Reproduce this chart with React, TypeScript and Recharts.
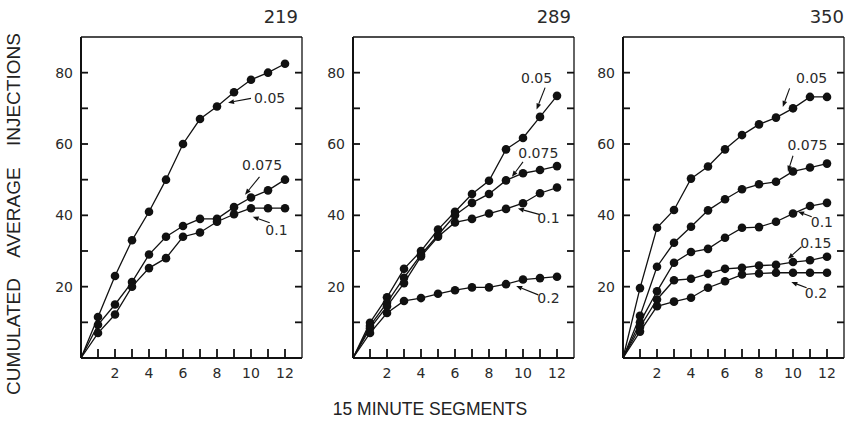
import React from 'react';
import { LineChart, Line, XAxis, YAxis, ReferenceLine, ReferenceDot } from 'recharts';

// 15-minute segments (0 = origin)
const segments = [0, 1, 2, 3, 4, 5, 6, 7, 8, 9, 10, 11, 12];
const xTicks = [1, 2, 3, 4, 5, 6, 7, 8, 9, 10, 11, 12];
const yTicks = [10, 20, 30, 40, 50, 60, 70, 80];

// panel 219
const r219_005 = [0, 11.5, 23, 33, 41, 50, 60, 67, 70.5, 74.5, 78, 80, 82.5];
const r219_0075 = [0, 9.3, 15, 21.3, 29, 34, 37, 39, 39, 42.3, 45, 47, 50];
const r219_01 = [0, 7, 12.2, 20, 25.2, 28, 34, 35.2, 38.2, 40.3, 42, 42, 42];

// panel 289
const r289_005 = [0, 9.9, 17, 25, 30, 36, 41, 46, 49.7, 58.5, 61.7, 67.6, 73.5];
const r289_0075 = [0, 9, 15.5, 22.5, 29, 34.5, 40, 43.5, 46, 49.8, 51.8, 52.7, 53.8];
const r289_01 = [0, 8.3, 14.5, 21, 28.5, 34, 38, 39, 40.5, 41.8, 43.4, 46.2, 47.8];
const r289_02 = [0, 7, 12.6, 16, 16.8, 18, 19, 19.8, 19.8, 20.7, 22, 22.4, 22.8];

// panel 350
const r350_005 = [0, 19.6, 36.5, 41.5, 50.3, 53.7, 58.5, 62.5, 65.5, 67.4, 70, 73.2, 73.2];
const r350_0075 = [0, 11.8, 25.6, 32.3, 36.8, 41.4, 44.5, 47.3, 48.7, 49.4, 52.3, 53.4, 54.5];
const r350_01 = [0, 10, 18.7, 26.7, 29.7, 30.6, 33.7, 36.5, 36.7, 38.2, 40.5, 42.6, 43.5];
const r350_015 = [0, 8.7, 16.4, 21.8, 22.2, 23.6, 25, 25.3, 25.9, 26.1, 26.9, 27.4, 28.4];
const r350_02 = [0, 7.4, 14.5, 15.8, 16.9, 19.7, 21.5, 23.4, 23.7, 23.9, 23.9, 23.9, 23.9];

// dose labels: text position and arrow (data units)
const notes219 = [
    { text: '0.05', tx: 11.1, ty: 72.8, x1: 10.0, y1: 72.8, x2: 8.65, y2: 71.6 },
    { text: '0.075', tx: 10.65, ty: 54.2, x1: 10.5, y1: 50.8, x2: 9.65, y2: 45.8 },
    { text: '0.1', tx: 11.5, ty: 36, x1: 11.1, y1: 37.9, x2: 10.1, y2: 39.6 },
];
const notes289 = [
    { text: '0.05', tx: 10.8, ty: 78.4, x1: 11.3, y1: 75.8, x2: 10.8, y2: 69.7 },
    { text: '0.075', tx: 10.9, ty: 57.6, x1: 10, y1: 55, x2: 9.35, y2: 50.8 },
    { text: '0.1', tx: 11.5, ty: 39.3, x1: 11, y1: 40.2, x2: 9.7, y2: 41.9 },
    { text: '0.2', tx: 11.5, ty: 16.9, x1: 10.9, y1: 17.7, x2: 9.6, y2: 20.2 },
];
const notes350 = [
    { text: '0.05', tx: 11.1, ty: 78.4, x1: 9.8, y1: 75.6, x2: 9.4, y2: 70.4 },
    { text: '0.075', tx: 10.85, ty: 59.6, x1: 10, y1: 56.7, x2: 9.7, y2: 52.2 },
    { text: '0.1', tx: 11.7, ty: 38.2, x1: 11.1, y1: 39.6, x2: 10.3, y2: 41 },
    { text: '0.15', tx: 11.35, ty: 32.3, x1: 10.5, y1: 31.2, x2: 9.7, y2: 27.8 },
    { text: '0.2', tx: 11.35, ty: 18.3, x1: 10.8, y1: 19.7, x2: 9.9, y2: 21.3 },
];

const FONT = '"DejaVu Sans", "Liberation Sans", sans-serif';
const TITLE_FONT = '"Liberation Sans", Arial, sans-serif';
const INK = '#111';
const TXT = '#2a2a2a';
const X_MAX = 13;
const Y_MAX = 90;

function buildRows(series: number[][]) {
    return segments.map((s, i) => {
        const row: any = { seg: s };
        series.forEach((vals, k) => { row['s' + k] = vals[i]; });
        return row;
    });
}

const Arrow = (props: any) => {
    const { x1, y1, x2, y2 } = props;
    if (x1 == null) return null;
    const ang = Math.atan2(y2 - y1, x2 - x1);
    const len = 6, half = 2.4;
    const bx = x2 - len * Math.cos(ang), by = y2 - len * Math.sin(ang);
    const px = -Math.sin(ang) * half, py = Math.cos(ang) * half;
    return (
        <g>
            <line x1={x1} y1={y1} x2={bx} y2={by} stroke={INK} strokeWidth={1.1} />
            <polygon points={`${x2},${y2} ${bx + px},${by + py} ${bx - px},${by - py}`} fill={INK} />
        </g>
    );
};

// inward tick marks, anchored on the axes through the chart scales
const upTick = (p: any) => <rect x={p.cx - 0.9} y={p.cy - 9} width={1.8} height={9} fill={INK} />;
const rightTick = (p: any) => <rect x={p.cx} y={p.cy - 0.9} width={7} height={1.8} fill={INK} />;
const leftTick = (p: any) => <rect x={p.cx - 7} y={p.cy - 0.9} width={7} height={1.8} fill={INK} />;

const dotFn = (p: any) => {
    if (p.index === 0) return <g key={`d${p.index}`} />;
    return <circle key={`d${p.index}`} cx={p.cx} cy={p.cy} r={4.3} fill={INK} />;
};

function Panel({ series, notes, left }: { series: number[][]; notes: any[]; left: number }) {
    const rows = buildRows(series);
    return (
        <div style={{ position: 'absolute', left, top: 0 }}>
            <LineChart width={271} height={392} data={rows} margin={{ top: 37, right: 0, left: 0, bottom: 0 }}>
                <XAxis
                    dataKey="seg"
                    type="number"
                    domain={[0, X_MAX]}
                    ticks={xTicks}
                    interval={0}
                    height={34}
                    tickSize={0}
                    tickMargin={10}
                    axisLine={{ stroke: INK, strokeWidth: 2 }}
                    tickLine={false}
                    tick={{ fill: TXT, fontSize: 14, fontFamily: FONT }}
                    tickFormatter={(v) => (v % 2 === 0 ? String(v) : '')}
                />
                <YAxis
                    domain={[0, Y_MAX]}
                    ticks={yTicks}
                    interval={0}
                    width={40}
                    tickSize={0}
                    tickMargin={8}
                    axisLine={{ stroke: INK, strokeWidth: 2 }}
                    tickLine={false}
                    tick={{ fill: TXT, fontSize: 14, fontFamily: FONT }}
                    tickFormatter={(v) => (v % 20 === 0 ? String(v) : '')}
                />
                <YAxis
                    yAxisId="r"
                    orientation="right"
                    domain={[0, Y_MAX]}
                    width={10}
                    tick={false}
                    tickLine={false}
                    axisLine={{ stroke: INK, strokeWidth: 1.3 }}
                />
                <ReferenceLine y={Y_MAX} stroke={INK} strokeWidth={1.5} />
                {xTicks.map((t) => (
                    <ReferenceDot key={'xt' + t} x={t} y={0} ifOverflow="visible" shape={upTick} />
                ))}
                {yTicks.map((t) => (
                    <ReferenceDot key={'yl' + t} x={0} y={t} ifOverflow="visible" shape={rightTick} />
                ))}
                {yTicks.map((t) => (
                    <ReferenceDot key={'yr' + t} x={X_MAX} y={t} ifOverflow="visible" shape={leftTick} />
                ))}
                {series.map((_, k) => (
                    <Line
                        key={k}
                        type="linear"
                        dataKey={'s' + k}
                        stroke={INK}
                        strokeWidth={1.3}
                        dot={dotFn}
                        activeDot={false}
                        isAnimationActive={false}
                    />
                ))}
                {notes.map((n, i) => (
                    <ReferenceLine
                        key={'a' + i}
                        segment={[{ x: n.x1, y: n.y1 }, { x: n.x2, y: n.y2 }]}
                        shape={Arrow}
                        ifOverflow="visible"
                    />
                ))}
                {notes.map((n, i) => (
                    <ReferenceDot
                        key={'t' + i}
                        x={n.tx}
                        y={n.ty}
                        ifOverflow="visible"
                        shape={(p: any) => (
                            <text x={p.cx} y={p.cy} textAnchor="middle" dominantBaseline="central" fontSize={14} fontFamily={FONT} fill={TXT}>
                                {n.text}
                            </text>
                        )}
                    />
                ))}
            </LineChart>
        </div>
    );
}

const titleStyle: React.CSSProperties = {
    position: 'absolute', top: 6, width: 80, textAlign: 'right',
    fontSize: 18, lineHeight: '22px', fontFamily: FONT, color: TXT,
};

export default function App() {
    return (
        <div style={{ position: 'absolute', left: 0, top: 0, width: 846, height: 433, overflow: 'hidden', background: '#fff' }}>
            <Panel series={[r219_005, r219_0075, r219_01]} notes={notes219} left={41} />
            <Panel series={[r289_005, r289_0075, r289_01, r289_02]} notes={notes289} left={313} />
            <Panel series={[r350_005, r350_0075, r350_01, r350_015, r350_02]} notes={notes350} left={583} />
            <div style={{ ...titleStyle, left: 298 - 80 }}>219</div>
            <div style={{ ...titleStyle, left: 571 - 80 }}>289</div>
            <div style={{ ...titleStyle, left: 844 - 80 }}>350</div>
            <div style={{ position: 'absolute', left: 230, width: 400, top: 399, textAlign: 'center', fontSize: 17.5, fontFamily: TITLE_FONT, color: '#222' }}>
                15 MINUTE SEGMENTS
            </div>
            <div
                style={{
                    position: 'absolute', left: 14 - 200, top: 214 - 11, width: 400, height: 22, lineHeight: '22px',
                    textAlign: 'center', fontSize: 19, fontFamily: TITLE_FONT, color: '#222', wordSpacing: 16,
                    transform: 'rotate(-90deg)', whiteSpace: 'nowrap',
                }}
            >
                CUMULATED AVERAGE INJECTIONS
            </div>
        </div>
    );
}
